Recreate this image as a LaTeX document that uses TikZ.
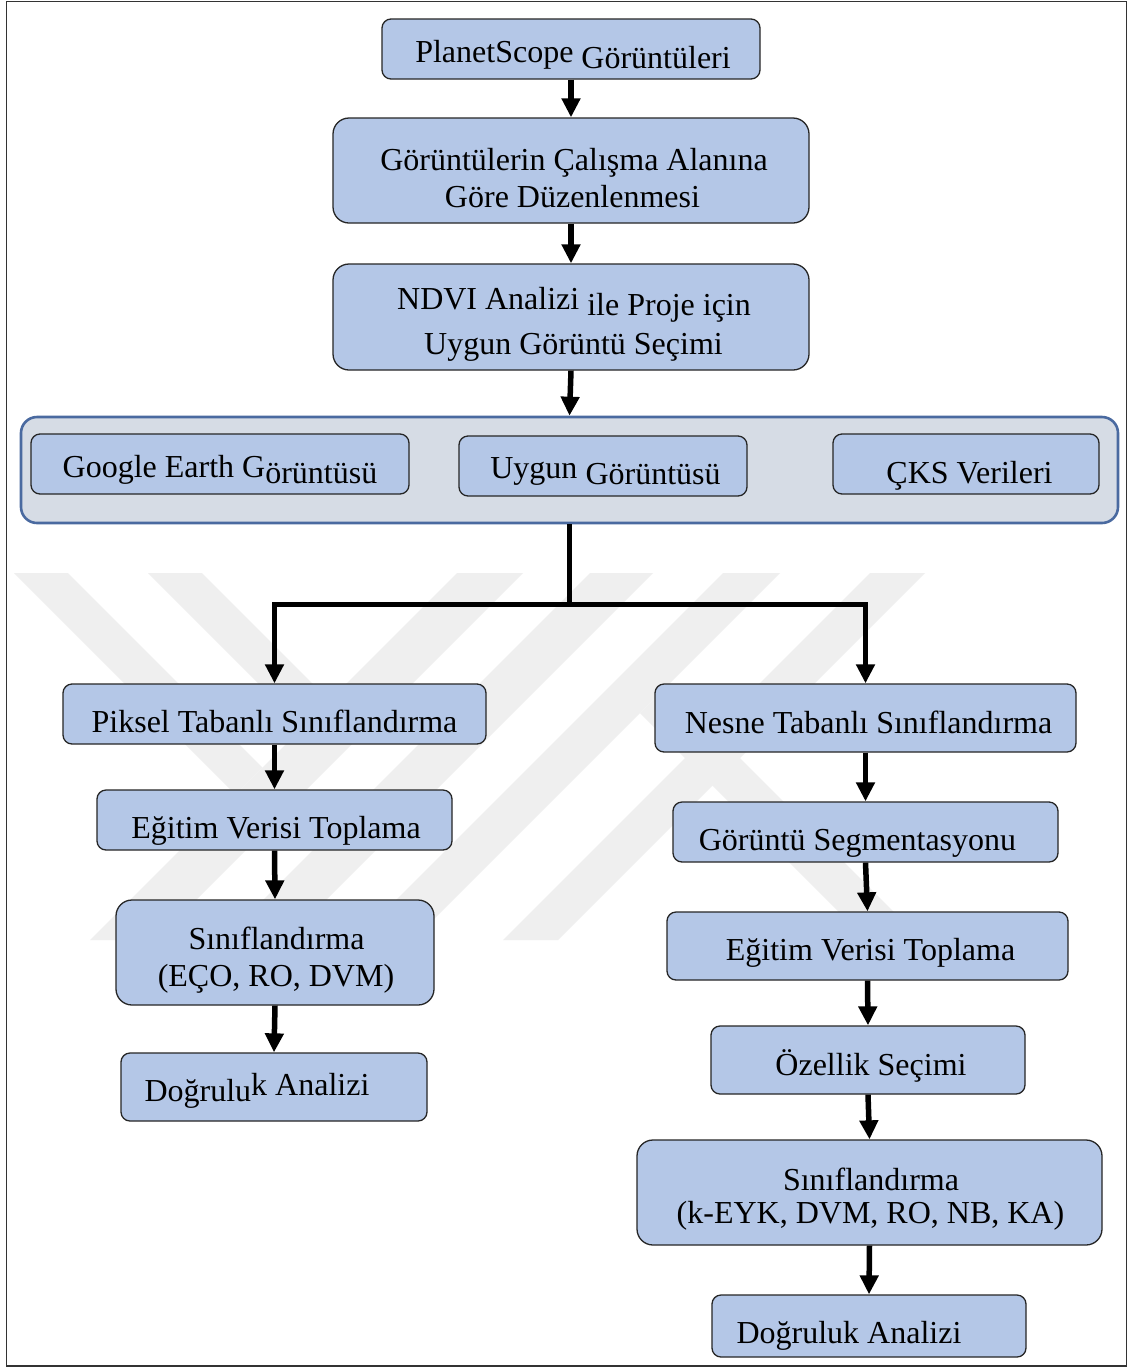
\documentclass[tikz,border=0pt]{standalone}
\usepackage{fontspec}
\setmainfont{Liberation Serif}
\usetikzlibrary{arrows.meta}
\definecolor{boxfill}{HTML}{B4C7E7}
\definecolor{boxline}{HTML}{262626}
\definecolor{contfill}{HTML}{D6DCE5}
\definecolor{contline}{HTML}{4A6AA0}
\definecolor{wmark}{HTML}{EFEFEF}
\tikzset{
  box/.style={draw=boxline, line width=1.3pt, fill=boxfill, rounded corners=9pt, inner sep=0pt},
  tallbox/.style={box, rounded corners=16pt},
  container/.style={draw=contline, line width=2.6pt, fill=contfill, rounded corners=16pt, inner sep=0pt},
  txt/.style={font=\fontsize{32}{37}\selectfont, inner sep=0pt, anchor=base},
  arr/.style={line width=5.5pt, -{Triangle[length=19pt,width=18pt]}},
  wmband/.style={fill=wmark},
}
\begin{document}
\begin{tikzpicture}[x=1pt,y=-1pt]
\useasboundingbox (0,0) rectangle (1131,1369);
\fill[white] (0,0) rectangle (1131,1369);

% watermark
\begin{scope}
\clip (8,573) rectangle (1124,940);
\fill[wmband] (14,573) -- (68,573) -- (262.5,767.5) -- (235.5,794.5) -- cycle;
\fill[wmband] (148,573) -- (202,573) -- (329.5,700.5) -- (302.5,727.5) -- cycle;
\fill[wmband] (457,573) -- (523,573) -- (156,940) -- (90,940) -- cycle;
\fill[wmband] (590,573) -- (653,573) -- (286,940) -- (223,940) -- cycle;
\fill[wmband] (723,573) -- (780,573) -- (413,940) -- (356,940) -- cycle;
\fill[wmband] (870,573) -- (925,573) -- (558,940) -- (503,940) -- cycle;
\fill[wmband] (640,713) -- (667.5,685.5) -- (922,940) -- (867,940) -- cycle;
\end{scope}

% outer frame
\draw[line width=1.6pt, draw=black!80] (6.5,1.5) rectangle (1126.5,1366);

% top chain
\node[box, minimum width=378pt, minimum height=60pt] (b1) at (571,49) {};
\node[txt] (t1) at (573,62) {PlanetScope \raisebox{-6pt}{Görüntüleri}};

\node[tallbox, minimum width=476pt, minimum height=105pt] (b2) at (571,170.5) {};
\node[txt] (t2a) at (574,170) {Görüntülerin Çalışma Alanına};
\node[txt] (t2b) at (572.5,207) {Göre Düzenlenmesi};

\node[tallbox, minimum width=476pt, minimum height=106pt] (b3) at (571,317) {};
\node[txt] (t3a) at (574,309) {NDVI Analizi \raisebox{-6pt}{ile Proje için}};
\node[txt] (t3b) at (573.5,354) {Uygun Görüntü Seçimi};

% container
\node[container, minimum width=1097pt, minimum height=106pt] (cont) at (569.5,470) {};
\node[box, minimum width=378pt, minimum height=60pt] (ge) at (220,464) {};
\node[txt] (tge) at (220,477) {Google Earth G\raisebox{-6pt}{örüntüsü}};
\node[box, minimum width=288pt, minimum height=60pt] (ug) at (603,466) {};
\node[txt] (tug) at (605.5,478) {Uygun \raisebox{-6pt}{Görüntüsü}};
\node[box, minimum width=266pt, minimum height=60pt] (cks) at (966,464) {};
\node[txt] (tcks) at (969.5,483) {ÇKS Verileri};

% left branch
\node[box, minimum width=423pt, minimum height=60pt] (pik) at (274.5,714) {};
\node[txt] (tpik) at (274.5,732) {Piksel Tabanlı Sınıflandırma};
\node[box, minimum width=355pt, minimum height=60pt] (egl) at (274.5,820) {};
\node[txt] (tegl) at (276,838) {Eğitim Verisi Toplama};
\node[tallbox, minimum width=318pt, minimum height=105pt] (sinl) at (275,952.5) {};
\node[txt] (tsinla) at (276.5,949) {Sınıflandırma};
\node[txt] (tsinlb) at (276,986) {(EÇO, RO, DVM)};
\node[box, minimum width=306pt, minimum height=68pt] (dogl) at (274,1087) {};
\node[txt] (tdogl) at (257,1101) {Doğrulu\raisebox{6pt}{k Analizi}};

% right branch
\node[box, minimum width=421pt, minimum height=68pt] (nes) at (865.5,718) {};
\node[txt] (tnes) at (868.5,733) {Nesne Tabanlı Sınıflandırma};
\node[box, minimum width=385pt, minimum height=60pt] (seg) at (865.5,832) {};
\node[txt] (tseg) at (857.5,850) {Görüntü Segmentasyonu};
\node[box, minimum width=401pt, minimum height=68pt] (egr) at (867.5,946) {};
\node[txt] (tegr) at (870.5,960) {Eğitim Verisi Toplama};
\node[box, minimum width=314pt, minimum height=68pt] (oz) at (868,1060) {};
\node[txt] (toz) at (871,1075) {Özellik Seçimi};
\node[tallbox, minimum width=465pt, minimum height=105pt] (sinr) at (869.5,1192.5) {};
\node[txt] (tsinra) at (871,1190) {Sınıflandırma};
\node[txt] (tsinrb) at (870.5,1223) {(k-EYK, DVM, RO, NB, KA)};
\node[box, minimum width=314pt, minimum height=62pt] (dogr) at (869,1326) {};
\node[txt] (tdogr) at (849,1343) {Doğruluk Analizi};

% connectors
\draw[arr] (b1) -- (b2);
\draw[arr] (b2) -- (b3);
\draw[arr] (b3.south) -- (cont.north);
\draw[line width=5.5pt] (cont.south) -- ++(0,80) coordinate (split);
\draw[arr] (split) -| (pik.north);
\draw[arr] (split) -| (nes.north);
\draw[arr] (pik.south) -- (egl.north);
\draw[arr] (egl.south) -- (sinl.north);
\draw[arr] (sinl.south) -- (dogl.north);
\draw[arr] (nes.south) -- (seg.north);
\draw[arr] (seg.south) -- (egr.north);
\draw[arr] (egr.south) -- (oz.north);
\draw[arr] (oz.south) -- (sinr.north);
\draw[arr] (sinr.south) -- (dogr.north);
\end{tikzpicture}
\end{document}
